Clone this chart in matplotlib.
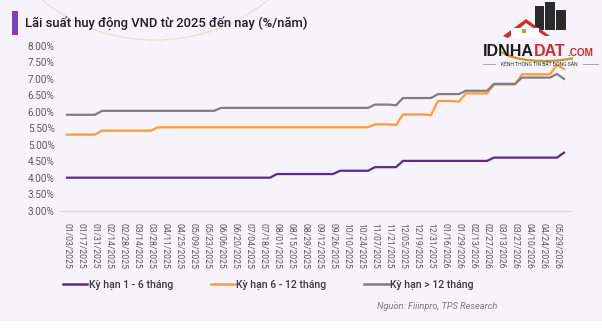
import matplotlib
matplotlib.use("Agg")
import matplotlib.pyplot as plt
from matplotlib.patches import Rectangle, Polygon, Arc
import numpy as np

# ---------------- data ----------------
tick_labels = [
    "01/03/2025", "01/17/2025", "01/31/2025", "02/14/2025", "02/28/2025", "03/14/2025",
    "03/28/2025", "04/11/2025", "04/25/2025", "05/09/2025", "05/23/2025", "06/06/2025",
    "06/20/2025", "07/04/2025", "07/18/2025", "08/01/2025", "08/15/2025", "08/29/2025",
    "09/12/2025", "09/26/2025", "10/10/2025", "10/24/2025", "11/07/2025", "11/21/2025",
    "12/05/2025", "12/19/2025", "12/31/2025", "01/16/2026", "01/29/2026", "02/13/2026",
    "02/27/2026", "03/13/2026", "03/27/2026", "04/10/2026", "04/24/2026", "05/29/2026",
]

# weekly observations (72 points, labels on every second point)
ky_han_1_6 = (
    [4.00] * 30 + [4.11] * 9 + [4.21] * 5 + [4.32] * 4 + [4.51] * 13 + [4.61] * 10 + [4.76]
)
ky_han_6_12 = (
    [5.31] * 5 + [5.43] * 8 + [5.53] * 31 + [5.62, 5.62, 5.62, 5.60]
    + [5.92, 5.92, 5.92, 5.92, 5.90] + [6.33, 6.33, 6.33, 6.31]
    + [6.56] * 4 + [6.83] * 4 + [7.14] * 5 + [7.43, 7.30]
)
ky_han_tren_12 = (
    [5.91] * 5 + [6.03] * 17 + [6.12] * 22 + [6.22, 6.22, 6.22, 6.20]
    + [6.42] * 5 + [6.54] * 4 + [6.64] * 4 + [6.85] * 4 + [7.04] * 5 + [7.15, 7.00]
)

series_names = ["Kỳ hạn 1 - 6 tháng", "Kỳ hạn 6 - 12 tháng", "Kỳ hạn > 12 tháng"]
series_colors = ["#5B2A8E", "#FF9A3C", "#7F7F7F"]
title = "Lãi suất huy động VND từ 2025 đến nay (%/năm)"
source = "Nguồn: Fiiinpro, TPS Research"

# ---------------- figure ----------------
W, H = 602, 328
fig = plt.figure(figsize=(W / 100, H / 100), dpi=100)
fig.patch.set_facecolor("white")

FONT = ["Roboto", "DejaVu Sans"]

# background panel + decorative arc
bg = fig.add_axes([0, 0, 1, 1], zorder=0)
bg.set_xlim(0, W)
bg.set_ylim(H, 0)
bg.axis("off")
bg.add_patch(Rectangle((0, 0), W, 321, facecolor="#F6F3FB", edgecolor="none"))
bg.add_patch(Arc((155, -140), 360, 360, theta1=0, theta2=360, color="#EADCC6", lw=0.8))
# title bar
bg.add_patch(Rectangle((12, 11), 6, 24, facecolor="#7B3FBF", edgecolor="none"))
bg.text(25, 23, title, fontsize=9.35, fontweight="medium", color="#1E1E1E",
        va="center", ha="left", family=FONT)

# main chart
ax = fig.add_axes([60 / W, 1 - 210.6 / H, 511 / W, (210.6 - 46) / H], zorder=2)
ax.set_facecolor("none")
x = np.arange(len(ky_han_1_6))
for vals, name, col in zip([ky_han_1_6, ky_han_6_12, ky_han_tren_12], series_names, series_colors):
    ax.plot(x, vals, color=col, lw=1.6, label=name, solid_joinstyle="round")

ax.set_xlim(-1, 72)
ax.set_ylim(3, 8)
ax.set_yticks(np.arange(3, 8.01, 0.5))
ax.set_yticklabels([f"{v:.2f}%" for v in np.arange(3, 8.01, 0.5)],
                   fontsize=7.2, color="#595959", family=FONT)
ax.set_xticks(x[::2])
ax.set_xticklabels(tick_labels, rotation=270, fontsize=6.2, color="#595959",
                   family=FONT, va="top", ha="center")
ax.tick_params(axis="both", length=0, pad=4)
ax.tick_params(axis="x", pad=9)
for s in ["top", "right", "left"]:
    ax.spines[s].set_visible(False)
ax.spines["bottom"].set_color("#D9D9D9")
ax.spines["bottom"].set_linewidth(1.0)

# legend
leg = ax.legend(loc="center left", bbox_to_anchor=(63 / W, 1 - 285 / H),
                bbox_transform=fig.transFigure, ncol=3, frameon=False,
                handlelength=2.3, handletextpad=0.12, columnspacing=3.6, borderaxespad=0,
                borderpad=0,
                prop={"family": FONT, "size": 7.6, "weight": "medium"})
for t in leg.get_texts():
    t.set_color("#3A3A3A")
for l in leg.get_lines():
    l.set_linewidth(1.8)

bg.text(497, 306, source, fontsize=6.7, style="italic", color="#7A7A7A",
        ha="right", va="center", family=FONT)

# logo overlay
lg = fig.add_axes([0, 0, 1, 1], zorder=5)
lg.set_xlim(0, W)
lg.set_ylim(H, 0)
lg.axis("off")
lg.set_facecolor("none")
for bx, by, bw in [(535, 6, 9), (545, 2, 10), (556, 10, 10)]:
    lg.add_patch(Rectangle((bx, by), bw, 30 - by, facecolor="#2A2A2A", edgecolor="none"))
lg.add_patch(Polygon([(503, 36), (526, 19), (550, 36), (545, 36), (526, 23), (508, 38)],
                     closed=True, facecolor="#D42A2A", edgecolor="none"))
lg.add_patch(Rectangle((511, 28), 28, 10, facecolor="white", edgecolor="none"))
lg.add_patch(Rectangle((522, 29), 4, 4, facecolor="#C89A3A", edgecolor="none"))
lg.add_patch(Arc((545, 48), 90, 26, theta1=20, theta2=175, color="#C9962E", lw=1.6))
lg.text(483, 52, "IDNHA", fontsize=11.5, fontweight="bold", color="#1A1A1A",
        ha="left", va="center", family=["Liberation Sans", "DejaVu Sans"])
lg.text(534, 52, "DAT", fontsize=11.5, fontweight="bold", color="#D42A2A",
        ha="left", va="center", family=["Liberation Sans", "DejaVu Sans"])
lg.text(567, 53.5, ".COM", fontsize=7.2, fontweight="bold", color="#D42A2A",
        ha="left", va="center", family=["Liberation Sans", "DejaVu Sans"])
lg.plot([483, 495], [64, 64], color="#9A9A9A", lw=0.6)
lg.plot([583, 598], [64, 64], color="#9A9A9A", lw=0.6)
lg.text(539, 64, "KÊNH THÔNG TIN BẤT ĐỘNG SẢN", fontsize=3.6, color="#333333",
        ha="center", va="center", family=FONT)

fig.savefig("out.png", dpi=100, facecolor=fig.get_facecolor())
